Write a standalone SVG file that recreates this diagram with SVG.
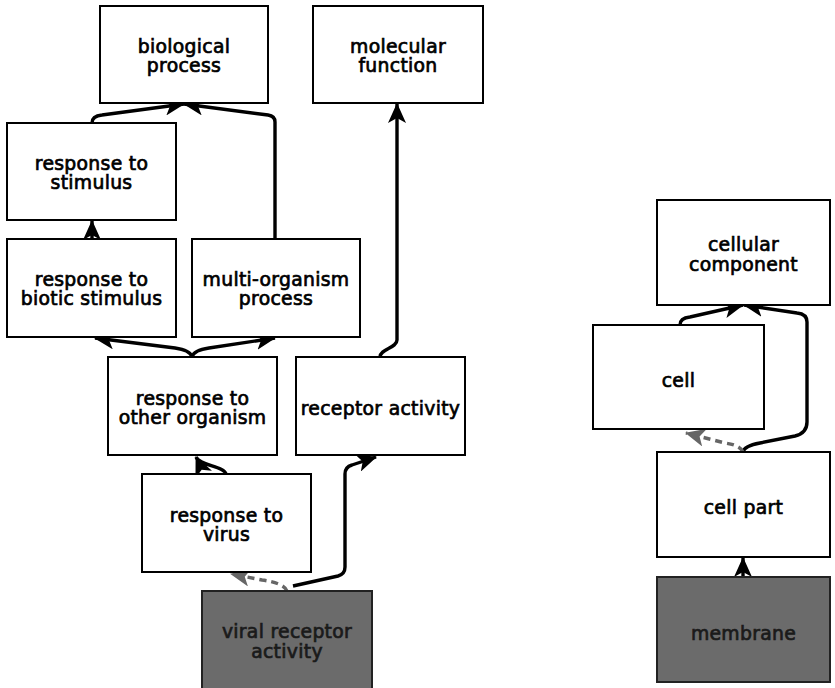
<svg xmlns="http://www.w3.org/2000/svg" width="835" height="688" viewBox="0 0 835 688">
<defs>
<marker id="ah" markerUnits="userSpaceOnUse" viewBox="0 0 20 18" refX="19" refY="9" markerWidth="20" markerHeight="18" orient="auto">
<path d="M0,0 L20,9 L0,18 L5,9 z" fill="#000"/>
</marker>
<marker id="ahg" markerUnits="userSpaceOnUse" viewBox="0 0 20 18" refX="19" refY="9" markerWidth="20" markerHeight="18" orient="auto">
<path d="M0,0 L20,9 L0,18 L5,9 z" fill="#666"/>
</marker>
<style>
.box{fill:#fff;stroke:#000;stroke-width:2}
.dark{fill:#6b6b6b;stroke:#222;stroke-width:2}
text{font-family:"DejaVu Sans",sans-serif;font-size:18.8px;letter-spacing:0.3px;text-anchor:middle;fill:#000;stroke:#000;stroke-width:0.7px}
.dt{fill:#1a1a1a;stroke:#1a1a1a}
.e{fill:none;stroke:#000;stroke-width:3.4;marker-end:url(#ah)}
.d{fill:none;stroke:#666;stroke-width:3.4;stroke-dasharray:7,5;marker-end:url(#ahg)}
</style>
</defs>
<rect width="835" height="688" fill="#fff"/>
<g id="connectors">
<path class="e" d="M92 123 Q92 116 102 115 L184 104"/>
<path class="e" d="M275 239 L275 122 Q275 116 268 115 L184 104"/>
<path class="e" d="M92 239 L92 221"/>
<path class="e" d="M192 357 Q190 350 175 348 L95 338"/>
<path class="e" d="M192 357 Q194 350 209 348 L275 338"/>
<path class="e" d="M380 357 C380 349 397 348 397 340 L397 104"/>
<path class="e" d="M226 474 C224 466 200 466 196 457"/>
<path class="d" d="M287 591 Q284 583 262 580 L231 574"/>
<path class="e" d="M293 586 L338 576 Q345 574 345 567 L345 474 Q345 467 352 465 L376 457"/>
<path class="e" d="M680 325 Q680 318 690 317 L743 305"/>
<path class="e" d="M743 452 Q744 446 760 443 L795 436 Q807 433 807 422 L807 322 Q807 314 797 313 L744 305"/>
<path class="d" d="M743 452 Q740 445 725 443 L686 433"/>
<path class="e" d="M743 577 L743 558"/>
</g>
<g id="biological_process"><rect class="box" x="100" y="6" width="168" height="97"/><text x="184" y="53">biological</text><text x="184" y="72">process</text></g>
<g id="molecular_function"><rect class="box" x="313" y="6" width="170" height="97"/><text x="398" y="53">molecular</text><text x="398" y="72">function</text></g>
<g id="response_to_stimulus"><rect class="box" x="7" y="123" width="169" height="97"/><text x="91.5" y="170">response to</text><text x="91.5" y="189">stimulus</text></g>
<g id="response_to_biotic_stimulus"><rect class="box" x="7" y="239" width="169" height="98"/><text x="91.5" y="286">response to</text><text x="91.5" y="305">biotic stimulus</text></g>
<g id="multi_organism_process"><rect class="box" x="192" y="239" width="168" height="98"/><text x="276" y="286">multi-organism</text><text x="276" y="305">process</text></g>
<g id="response_to_other_organism"><rect class="box" x="108" y="357" width="169" height="98"/><text x="192.5" y="405">response to</text><text x="192.5" y="424">other organism</text></g>
<g id="receptor_activity"><rect class="box" x="296" y="357" width="169" height="98"/><text x="380.5" y="415">receptor activity</text></g>
<g id="response_to_virus"><rect class="box" x="142" y="474" width="169" height="98"/><text x="226.5" y="522">response to</text><text x="226.5" y="541">virus</text></g>
<g id="viral_receptor_activity"><rect class="dark" x="202" y="591" width="170" height="100"/><text class="dt" x="287" y="638">viral receptor</text><text class="dt" x="287" y="658">activity</text></g>
<g id="cellular_component"><rect class="box" x="657" y="200" width="173" height="105"/><text x="743.5" y="251">cellular</text><text x="743.5" y="271">component</text></g>
<g id="cell"><rect class="box" x="593" y="325" width="171" height="104"/><text x="678.5" y="387">cell</text></g>
<g id="cell_part"><rect class="box" x="657" y="452" width="173" height="105"/><text x="743.5" y="514">cell part</text></g>
<g id="membrane"><rect class="dark" x="657" y="577" width="173" height="105"/><text class="dt" x="743.5" y="640">membrane</text></g>
</svg>
